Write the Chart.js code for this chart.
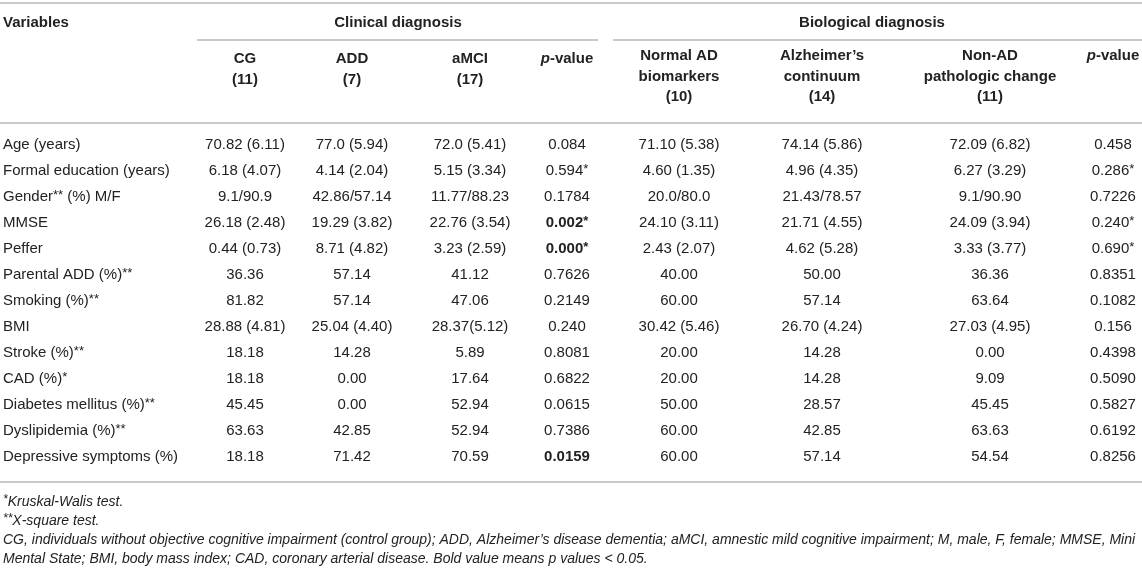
<!DOCTYPE html>
<html>
<head>
<meta charset="utf-8">
<script src="https://cdn.jsdelivr.net/npm/chart.js@4.4.0/dist/chart.umd.min.js"></script>
<style>
  html, body { margin: 0; padding: 0; background: #fff; }
  #wrap { width: 1142px; height: 571px; position: relative; }
</style>
</head>
<body>
<div id="wrap"><canvas id="canvas"></canvas></div>
<script>
var variables = ['Age (years)', 'Formal education (years)', 'Gender** (%) M/F', 'MMSE', 'Peffer',
    'Parental ADD (%)**', 'Smoking (%)**', 'BMI', 'Stroke (%)**', 'CAD (%)*',
    'Diabetes mellitus (%)**', 'Dyslipidemia (%)**', 'Depressive symptoms (%)'];

var cg = ['70.82 (6.11)', '6.18 (4.07)', '9.1/90.9', '26.18 (2.48)', '0.44 (0.73)', '36.36', '81.82',
    '28.88 (4.81)', '18.18', '18.18', '45.45', '63.63', '18.18'];
var add = ['77.0 (5.94)', '4.14 (2.04)', '42.86/57.14', '19.29 (3.82)', '8.71 (4.82)', '57.14', '57.14',
    '25.04 (4.40)', '14.28', '0.00', '0.00', '42.85', '71.42'];
var amci = ['72.0 (5.41)', '5.15 (3.34)', '11.77/88.23', '22.76 (3.54)', '3.23 (2.59)', '41.12', '47.06',
    '28.37(5.12)', '5.89', '17.64', '52.94', '52.94', '70.59'];
var pClinical = ['0.084', '0.594*', '0.1784', '0.002*', '0.000*', '0.7626', '0.2149',
    '0.240', '0.8081', '0.6822', '0.0615', '0.7386', '0.0159'];
var normalAD = ['71.10 (5.38)', '4.60 (1.35)', '20.0/80.0', '24.10 (3.11)', '2.43 (2.07)', '40.00', '60.00',
    '30.42 (5.46)', '20.00', '20.00', '50.00', '60.00', '60.00'];
var alzContinuum = ['74.14 (5.86)', '4.96 (4.35)', '21.43/78.57', '21.71 (4.55)', '4.62 (5.28)', '50.00', '57.14',
    '26.70 (4.24)', '14.28', '14.28', '28.57', '42.85', '57.14'];
var nonAD = ['72.09 (6.82)', '6.27 (3.29)', '9.1/90.90', '24.09 (3.94)', '3.33 (3.77)', '36.36', '63.64',
    '27.03 (4.95)', '0.00', '9.09', '45.45', '63.63', '54.54'];
var pBiological = ['0.458', '0.286*', '0.7226', '0.240*', '0.690*', '0.8351', '0.1082',
    '0.156', '0.4398', '0.5090', '0.5827', '0.6192', '0.8256'];

// significant p values (bold)
var boldClinical = ['MMSE', 'Peffer', 'Depressive symptoms (%)'];

var groups = ['Clinical diagnosis', 'Biological diagnosis'];
var headers = [
    ['Variables'],
    ['CG', '(11)'], ['ADD', '(7)'], ['aMCI', '(17)'], ['p-value'],
    ['Normal AD', 'biomarkers', '(10)'], ['Alzheimer\u2019s', 'continuum', '(14)'],
    ['Non-AD', 'pathologic change', '(11)'], ['p-value']
];
var footnotes = [
    '*Kruskal-Walis test.',
    '**X-square test.',
    'CG, individuals without objective cognitive impairment (control group); ADD, Alzheimer\u2019s disease dementia; aMCI, amnestic mild cognitive impairment; M, male, F, female; MMSE, Mini',
    'Mental State; BMI, body mass index; CAD, coronary arterial disease. Bold value means p values < 0.05.'
];

// layout (x scale runs 0..1142)
var colX = [3, 245, 352, 470, 567, 679, 822, 990, 1113];
var FONT = '"Liberation Sans", Arial, Helvetica, sans-serif';
var INK = '#222';
var RULE = '#b8b8b8';

function runsFor(text, style, size) {
    // split asterisks out as small raised marks
    var runs = [];
    var parts = text.split(/(\*+)/);
    parts.forEach(function(p) {
        if (!p) return;
        if (p.charAt(0) === '*') runs.push({t: p, font: style + ' ' + (size - 2) + 'px ' + FONT, dy: -2});
        else runs.push({t: p, font: style + ' ' + size + 'px ' + FONT, dy: 0});
    });
    return runs;
}

function drawRuns(ctx, runs, x, y, align) {
    var w = 0;
    runs.forEach(function(r) { ctx.font = r.font; r.w = ctx.measureText(r.t).width; w += r.w; });
    var sx = align === 'left' ? x : (align === 'right' ? x - w : x - w / 2);
    ctx.textAlign = 'left';
    ctx.textBaseline = 'middle';
    runs.forEach(function(r) {
        ctx.font = r.font;
        ctx.fillText(r.t, sx, y + r.dy);
        sx += r.w;
    });
}

function headerRuns(text) {
    if (text === 'p-value') {
        return [{t: 'p', font: 'italic bold 15px ' + FONT, dy: 0}, {t: '-value', font: 'bold 15px ' + FONT, dy: 0}];
    }
    return [{t: text, font: 'bold 15px ' + FONT, dy: 0}];
}

var tablePlugin = {
    id: 'tablePlugin',
    afterDatasetsDraw: function(chart) {
        var ctx = chart.ctx;
        var xs = chart.scales.x;
        var W = chart.width;
        ctx.save();
        ctx.fillStyle = INK;

        // cells, placed on the points the scales computed
        chart.data.datasets.forEach(function(ds, di) {
            var meta = chart.getDatasetMeta(di);
            meta.data.forEach(function(pt, j) {
                var txt = ds.cells[j];
                var style = (ds.boldRows && ds.boldRows.indexOf(variables[j]) >= 0) ? 'bold' : 'normal';
                drawRuns(ctx, runsFor(txt, style, 15), pt.x, pt.y, ds.align);
            });
        });

        // rules
        ctx.strokeStyle = RULE;
        ctx.lineWidth = 1.5;
        function hline(x0, x1, y) {
            ctx.beginPath(); ctx.moveTo(x0, y); ctx.lineTo(x1, y); ctx.stroke();
        }
        hline(0, W, 3);
        hline(xs.getPixelForValue(197), xs.getPixelForValue(598), 40);
        hline(xs.getPixelForValue(613), W, 40);
        hline(0, W, 123);
        hline(0, W, 482);

        // group titles
        drawRuns(ctx, headerRuns(groups[0]), xs.getPixelForValue(398), 23, 'center');
        drawRuns(ctx, headerRuns(groups[1]), xs.getPixelForValue(872), 23, 'center');

        // column headers
        drawRuns(ctx, headerRuns(headers[0][0]), xs.getPixelForValue(colX[0]), 23, 'left');
        for (var c = 1; c < headers.length; c++) {
            var lines = headers[c];
            var top = c <= 4 ? 59 : 56;
            var step = c <= 4 ? 21 : 20.5;
            for (var k = 0; k < lines.length; k++) {
                drawRuns(ctx, headerRuns(lines[k]), xs.getPixelForValue(colX[c]), top + k * step, 'center');
            }
        }

        // footnotes
        footnotes.forEach(function(f, i) {
            drawRuns(ctx, runsFor(f, 'italic', 14), 3, 502 + i * 19, 'left');
        });
        ctx.restore();
    }
};

var columns = [variables, cg, add, amci, pClinical, normalAD, alzContinuum, nonAD, pBiological];

window.onload = function() {
    var ctx = document.getElementById('canvas').getContext('2d');
    var datasets = columns.map(function(col, c) {
        return {
            label: c === 0 ? 'Variables' : headers[c].join(' '),
            cells: col,
            align: c === 0 ? 'left' : 'center',
            boldRows: c === 4 ? boldClinical : null,
            data: variables.map(function(v) { return {x: colX[c], y: v}; }),
            pointRadius: 0,
            pointHoverRadius: 0
        };
    });
    window.myTable = new Chart(ctx, {
        type: 'scatter',
        data: {datasets: datasets},
        plugins: [tablePlugin],
        options: {
            responsive: true,
            maintainAspectRatio: false,
            animation: false,
            events: [],
            layout: {padding: {top: 132, bottom: 101, left: 0, right: 0}},
            plugins: {legend: {display: false}, tooltip: {enabled: false}},
            scales: {
                x: {type: 'linear', min: 0, max: 1142, display: false},
                y: {type: 'category', labels: variables, offset: true, display: false}
            }
        }
    });
};
</script>
</body>
</html>
